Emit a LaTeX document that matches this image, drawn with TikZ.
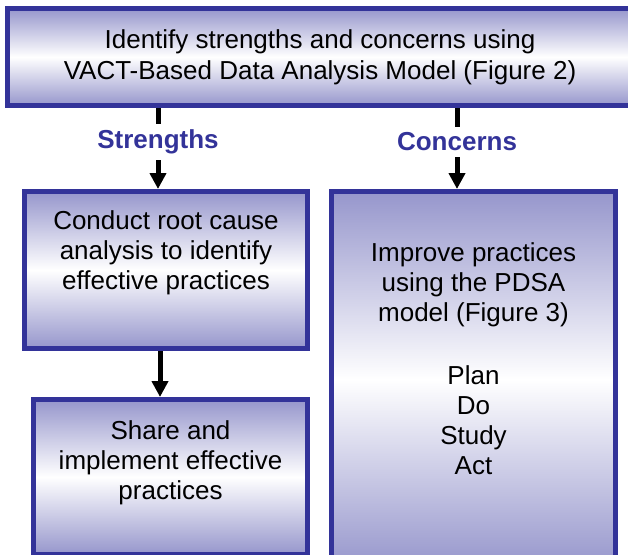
\documentclass[tikz,border=0pt]{standalone}
\usepackage{fontspec}
\setmainfont{Liberation Sans}
\usetikzlibrary{arrows.meta}

\definecolor{lavanda}{RGB}{150,150,204}
\definecolor{azul}{RGB}{51,51,153}

\begin{document}
\begin{tikzpicture}[x=1pt,y=-1pt,
    caja/.style={rectangle, draw=azul, line width=5pt, outer sep=2.5pt, inner sep=0pt,
        top color=lavanda, bottom color=lavanda, middle color=white, anchor=north west},
    texto/.style={font=\fontsize{26}{30}\selectfont, align=center, inner sep=0pt, anchor=north},
    rotulo/.style={font=\fontsize{26}{30}\selectfont\bfseries, text=azul, inner sep=6pt},
    linea/.style={line width=5pt},
    flecha/.style={line width=5pt, -{Triangle[width=16pt,length=16pt]}}]

    \useasboundingbox (0,0) rectangle (628,554);
    \clip (0,0) rectangle (628,554);

% Cajas
    \node[caja, minimum width=625pt, minimum height=97pt, font=\fontsize{26}{31}\selectfont, align=center]
        (analisis) at (5,6) {Identify strengths and concerns using\\VACT-Based Data Analysis Model (Figure 2)};
    \node[caja, minimum width=283pt, minimum height=157pt] (causa) at (22,189) {};
    \node[caja, minimum width=274pt, minimum height=155pt] (compartir) at (31,397) {};
    \node[caja, minimum width=284pt, minimum height=376pt] (pdsa) at (329,189) {};

% Textos
    \node[texto] at ([yshift=-21pt]causa.north)
        {Conduct root cause\\analysis to identify\\effective practices};
    \node[texto] at ([yshift=-23pt]compartir.north)
        {Share and\\implement effective\\practices};
    \node[texto] at ([yshift=-53pt]pdsa.north)
        {Improve practices\\using the PDSA\\model (Figure 3)\\[33pt]Plan\\Do\\Study\\Act};

% Ramas
    \node[rotulo] (fuertes) at (158,142) {Strengths};
    \node[rotulo] (mejora) at (457,142) {Concerns};

    \draw[linea] (fuertes.north |- analisis.south) -- (fuertes.north);
    \draw[flecha] (fuertes.south) -- (fuertes.south |- causa.north);
    \draw[linea] (mejora.north |- analisis.south) -- (mejora.north);
    \draw[flecha] (mejora.south) -- (mejora.south |- pdsa.north);

    \draw[flecha] ([xshift=-6pt]causa.south) -- ([xshift=-6pt]causa.south |- compartir.north);
\end{tikzpicture}
\end{document}
